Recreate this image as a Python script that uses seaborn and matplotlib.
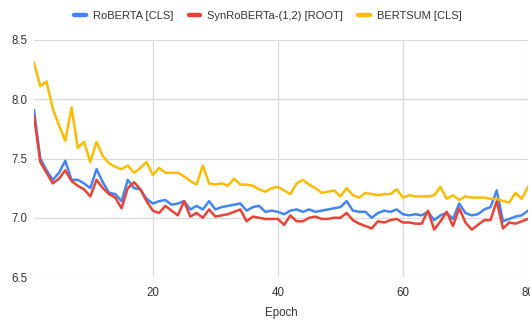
import matplotlib
matplotlib.use("Agg")
import matplotlib.pyplot as plt
import seaborn as sns
import pandas as pd
from matplotlib.lines import Line2D

epochs = list(range(1, 81))

roberta_cls = [7.91, 7.50, 7.40, 7.32, 7.38, 7.48, 7.32, 7.32, 7.29, 7.25,
               7.41, 7.30, 7.21, 7.20, 7.14, 7.32, 7.25, 7.24, 7.16, 7.12,
               7.14, 7.15, 7.11, 7.12, 7.14, 7.07, 7.10, 7.07, 7.14, 7.07,
               7.09, 7.10, 7.11, 7.12, 7.06, 7.09, 7.10, 7.05, 7.06, 7.05,
               7.03, 7.06, 7.07, 7.05, 7.07, 7.05, 7.06, 7.07, 7.08, 7.09,
               7.14, 7.06, 7.05, 7.05, 7.00, 7.04, 7.06, 7.05, 7.07, 7.03,
               7.02, 7.03, 7.02, 7.05, 6.98, 7.02, 7.04, 6.99, 7.12, 7.04,
               7.02, 7.03, 7.07, 7.09, 7.23, 6.97, 6.99, 7.01, 7.02, 7.06]

synroberta_root = [7.86, 7.47, 7.38, 7.29, 7.33, 7.40, 7.31, 7.27, 7.24, 7.18,
                   7.32, 7.25, 7.20, 7.17, 7.08, 7.25, 7.30, 7.24, 7.14, 7.06,
                   7.04, 7.10, 7.06, 7.02, 7.14, 7.01, 7.04, 7.00, 7.07, 7.01,
                   7.02, 7.03, 7.05, 7.07, 6.97, 7.01, 7.00, 6.99, 6.99, 6.99,
                   6.94, 7.02, 6.97, 6.97, 7.00, 7.01, 6.99, 6.99, 7.00, 7.00,
                   7.04, 6.98, 6.95, 6.93, 6.91, 6.97, 6.96, 6.98, 6.99, 6.96,
                   6.96, 6.95, 6.95, 7.06, 6.90, 6.97, 7.05, 6.93, 7.08, 6.96,
                   6.90, 6.94, 6.98, 6.98, 7.14, 6.91, 6.96, 6.95, 6.97, 6.99]

bertsum_cls = [8.31, 8.11, 8.15, 7.92, 7.78, 7.65, 7.93, 7.59, 7.64, 7.47,
               7.64, 7.52, 7.46, 7.43, 7.41, 7.44, 7.38, 7.42, 7.47, 7.36,
               7.42, 7.38, 7.38, 7.38, 7.35, 7.31, 7.28, 7.44, 7.29, 7.28,
               7.29, 7.27, 7.33, 7.28, 7.28, 7.27, 7.24, 7.22, 7.25, 7.26,
               7.23, 7.20, 7.29, 7.32, 7.28, 7.25, 7.21, 7.22, 7.23, 7.18,
               7.25, 7.19, 7.17, 7.21, 7.20, 7.19, 7.20, 7.20, 7.24, 7.17,
               7.19, 7.18, 7.18, 7.18, 7.19, 7.26, 7.16, 7.19, 7.15, 7.18,
               7.17, 7.17, 7.17, 7.16, 7.16, 7.14, 7.13, 7.21, 7.16, 7.26]

series_names = ["RoBERTA [CLS]", "SynRoBERTa-(1,2) [ROOT]", "BERTSUM [CLS]"]
colors = ["#4285F4", "#EA4335", "#FBBC04"]
x_ticks = [20, 40, 60, 80]
y_ticks = [6.5, 7.0, 7.5, 8.0, 8.5]

rows = []
for name, vals in zip(series_names, [roberta_cls, synroberta_root, bertsum_cls]):
    for e, v in zip(epochs, vals):
        rows.append({"Epoch": e, "value": v, "series": name})
df = pd.DataFrame(rows)

sns.set_style("white")
plt.rcParams["font.family"] = ["Liberation Sans", "DejaVu Sans"]

fig = plt.figure(figsize=(5.3, 3.2), dpi=100)
ax = fig.add_axes([34 / 530, 1 - 277 / 320, (528 - 34) / 530, (277 - 40) / 320])

sns.lineplot(data=df, x="Epoch", y="value", hue="series", hue_order=series_names,
             palette=colors, linewidth=1.8, ax=ax, legend=False)

ax.set_xlim(1, 80)
ax.set_ylim(6.5, 8.5)
ax.set_xticks(x_ticks)
ax.set_yticks(y_ticks)
ax.set_yticklabels([f"{t:.1f}" for t in y_ticks])
ax.grid(True, color="#d9d9d9", linewidth=0.9)
ax.set_axisbelow(True)
for s in ax.spines.values():
    s.set_visible(False)
ax.tick_params(axis="both", length=0, labelsize=8.3, colors="#333333")
ax.tick_params(axis="x", pad=7)
ax.tick_params(axis="y", pad=5)
ax.set_xlabel("Epoch", fontsize=8.3, color="#333333", labelpad=6)
ax.set_ylabel("")

handles = [Line2D([0], [0], color=c, linewidth=3.2) for c in colors]
fig.legend(handles, series_names, loc="center", bbox_to_anchor=(268 / 530, 1 - 16 / 320),
           ncol=3, frameon=False, fontsize=8.0, handlelength=1.05, handletextpad=0.63,
           columnspacing=1.35, labelcolor="#333333")

fig.savefig("out.png", dpi=100)
